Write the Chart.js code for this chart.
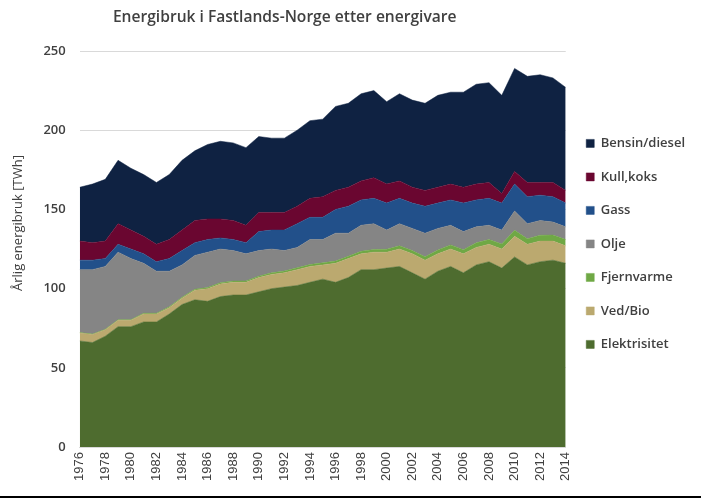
<!DOCTYPE html>
<html>
<head>
<meta charset="utf-8">
<script src="https://cdn.jsdelivr.net/npm/chart.js@4/dist/chart.umd.min.js"></script>
<style>
html,body{margin:0;padding:0;background:#fff;}
#wrap{width:701px;height:496px;border-bottom:2px solid #000;}
</style>
</head>
<body>
<div id="wrap"><canvas id="c" width="701" height="496"></canvas></div>
<script>
const years = [];
for (let y = 1976; y <= 2014; y++) years.push(String(y));

const elektrisitet = [67,66,70,76,76,79,79,84,90,93,92,95,96,96,98,100,101,102,104,106,104,107,112,112,113,114,110,106,111,114,110,115,117,113,120,115,117,118,116];
const vedBio = [5,5,4,4,4,5,5,4,4,6,8,8,8,8,9,9,9,10,10,9,12,12,10,11,10,11,12,12,11,11,12,11,11,12,13,13,13,12,11];
const fjernvarme = [0.3,0.3,0.3,0.4,0.4,0.5,0.5,0.5,0.6,0.6,0.7,0.8,0.8,0.9,0.9,1.0,1.1,1.2,1.2,1.3,1.4,1.5,1.6,1.7,1.8,2.0,2.0,2.1,2.4,2.6,2.6,2.9,3.0,3.2,3.8,3.5,3.7,3.8,4.0];
const olje = [39.7,40.7,39.7,42.6,38.6,31.5,26.5,22.5,20.4,21.4,22.3,21.2,19.2,17.1,16.1,15,12.9,12.8,15.8,14.7,17.6,14.5,16.4,16.3,12.2,14,14,14.9,13.6,12.4,11.4,10.1,9,8.8,12.2,9.5,9.3,8.2,8];
const gass = [6,6,5,5,6,6,6,8,9,8,8,7,7,7,12,12,13,15,14,14,15,17,16,16,17,16,16,17,16,16,18,17,17,17,17,17,16,16,15];
const kullKoks = [12,11,11,13,12,11,11,12,13,14,13,12,12,11,12,11,11,11,12,13,12,12,12,13,12,11,10,10,10,10,10,10,10,6,8,9,8,9,8];
const bensinDiesel = [34,37,39,40,39,39,39,41,44,44,47,49,49,49,48,47,47,48,49,49,53,53,55,55,52,55,55,55,58,58,60,63,63,62,65,67,68,66,65];

const yTicks = [0,50,100,150,200,250];

const seriesNames = ['Elektrisitet','Ved/Bio','Fjernvarme','Olje','Gass','Kull,koks','Bensin/diesel'];
const seriesData = [elektrisitet, vedBio, fjernvarme, olje, gass, kullKoks, bensinDiesel];
const seriesColors = ['#4e6c2f','#bba96f','#6fa845','#858585','#22508a','#6a0630','#0f2242'];

const titleText = 'Energibruk i Fastlands-Norge etter energivare';
const yTitleText = 'Årlig energibruk [TWh]';

const titlePlugin = {
  id: 'customTitle',
  afterDraw(chart) {
    const ctx = chart.ctx, a = chart.chartArea;
    ctx.save();
    ctx.font = '600 15.6px "Open Sans"';
    ctx.fillStyle = '#404040';
    ctx.textAlign = 'center';
    ctx.textBaseline = 'middle';
    ctx.fillText(titleText, (a.left + a.right) / 2 - 38, 18);
    // y-axis title, placed a little above the axis middle as in the original
    const s = chart.scales.y;
    ctx.translate(s.left + 13, (s.top + s.bottom) / 2 - 26);
    ctx.rotate(-Math.PI / 2);
    ctx.font = '13px "Open Sans"';
    ctx.fillText(yTitleText, 0, 0);
    ctx.restore();
  }
};

new Chart(document.getElementById('c'), {
  type: 'line',
  data: {
    labels: years,
    datasets: seriesData.map((d, i) => ({
      label: seriesNames[i],
      data: d,
      backgroundColor: seriesColors[i],
      borderColor: seriesColors[i],
      borderWidth: 0.5,
      pointRadius: 0,
      fill: i === 0 ? 'origin' : '-1',
      tension: 0
    }))
  },
  options: {
    responsive: false,
    animation: false,
    layout: { padding: { top: 51, left: 5, right: 6, bottom: 10 } },
    plugins: {
      legend: {
        position: 'right',
        align: 'start',
        reverse: true,
        title: { display: true, text: ' ', padding: { top: 51, bottom: 0 }, font: { size: 12 } },
        labels: {
          boxWidth: 8, boxHeight: 8,
          padding: 20.5,
          color: '#404040',
          font: { family: '"Open Sans"', size: 13, weight: '600' }
        }
      },
      tooltip: { enabled: false }
    },
    scales: {
      x: {
        offset: false,
        grid: { display: false, drawTicks: false },
        border: { color: '#d9d9d9' },
        ticks: {
          autoSkip: false,
          padding: 5,
          maxRotation: 90, minRotation: 90,
          color: '#404040',
          font: { family: '"Liberation Sans"', size: 13 },
          callback: function(v, i) { return i % 2 === 0 ? this.getLabelForValue(v) : ''; }
        }
      },
      y: {
        stacked: true,
        min: 0, max: 250,
        afterBuildTicks: axis => { axis.ticks = yTicks.map(v => ({ value: v })); },
        grid: { color: '#d9d9d9', drawTicks: false },
        border: { display: false },
        ticks: {
          padding: 14,
          color: '#404040',
          font: { family: '"Open Sans"', size: 13, weight: '600' }
        },
        title: {
          display: true,
          text: yTitleText,
          color: 'rgba(0,0,0,0)',
          font: { family: '"Open Sans"', size: 12 },
          padding: { top: 4, bottom: 6 }
        }
      }
    }
  },
  plugins: [titlePlugin]
});
</script>
</body>
</html>
